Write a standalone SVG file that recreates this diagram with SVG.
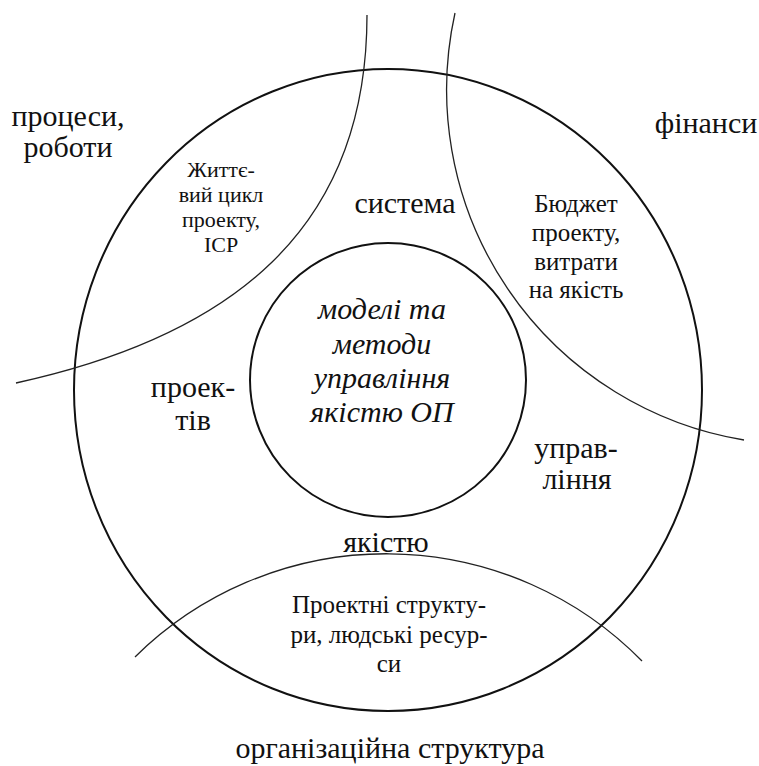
<svg xmlns="http://www.w3.org/2000/svg" width="759" height="766" viewBox="0 0 759 766">
<defs>
<style>
  .big { font-size: 30px; }
  .mid { font-size: 25px; }
  .small { font-size: 22px; }
  .ital { font-size: 30px; font-style: italic; }
  .ring { fill: none; stroke: #111; stroke-width: 2; }
  .arc { fill: none; stroke: #222; stroke-width: 1.3; }
</style>
</defs>
<rect width="759" height="766" fill="#fff"/>
<g font-family="Liberation Serif, Tinos, DejaVu Serif, Noto Serif, Times New Roman, Times, serif" fill="#111" text-anchor="middle">
<g id="outer-circle">
  <ellipse class="ring" cx="388" cy="390" rx="314" ry="321"/>
</g>
<g id="inner-circle">
  <ellipse class="ring" cx="388" cy="380" rx="138" ry="137"/>
  <text class="ital" x="382" y="319">моделі та</text>
  <text class="ital" x="382" y="354">методи</text>
  <text class="ital" x="382" y="388">управління</text>
  <text class="ital" x="382" y="422">якістю ОП</text>
</g>
<g id="connectors">
  <path class="arc" d="M367,15 C367,230 231,336 16,383"/>
  <path class="arc" d="M455,13 A355,355 0 0 0 744,440"/>
  <path class="arc" d="M135,657 A358,358 0 0 1 642,661"/>
</g>
<g id="processes">
  <text class="big" x="68" y="126">процеси,</text>
  <text class="big" x="68" y="157">роботи</text>
</g>
<g id="finance">
  <text class="big" x="706" y="133">фінанси</text>
</g>
<g id="life-cycle">
  <text class="small" x="221" y="177">Життє-</text>
  <text class="small" x="221" y="202">вий цикл</text>
  <text class="small" x="221" y="227">проекту,</text>
  <text class="small" x="221" y="252">ICP</text>
</g>
<g id="budget">
  <text class="mid" x="576" y="212">Бюджет</text>
  <text class="mid" x="576" y="241">проекту,</text>
  <text class="mid" x="576" y="270">витрати</text>
  <text class="mid" x="576" y="298">на якість</text>
</g>
<g id="system-label">
  <text class="big" x="405" y="213">система</text>
  <text class="big" x="193" y="397">проек-</text>
  <text class="big" x="193" y="430">тів</text>
  <text class="big" x="576" y="458" font-size="29">управ-</text>
  <text class="big" x="577" y="489" font-size="29">ління</text>
  <text class="big" x="386" y="552">якістю</text>
</g>
<g id="structures">
  <text class="mid" x="389" y="613">Проектні структу-</text>
  <text class="mid" x="389" y="643">ри, людські ресур-</text>
  <text class="mid" x="389" y="672">си</text>
</g>
<g id="org-structure">
  <text class="big" x="390" y="758">організаційна структура</text>
</g>
</g>
</svg>
